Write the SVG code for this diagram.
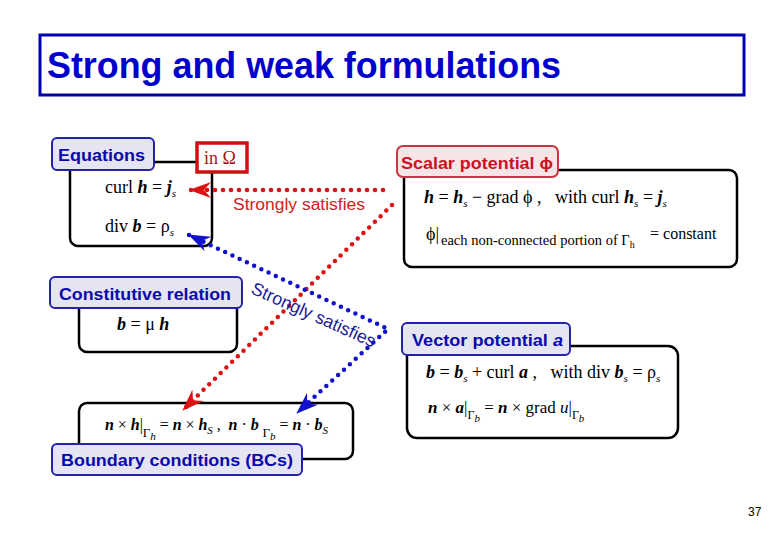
<svg xmlns="http://www.w3.org/2000/svg" width="780" height="540" viewBox="0 0 780 540">
<style>
.box{fill:#fff;stroke:#000;stroke-width:2.5}
.lbl{fill:#e4e4f2;stroke:#2222aa;stroke-width:2}
.lblr{fill:#f6e4e6;stroke:#cc3344;stroke-width:2}
.lt{font-family:"Liberation Sans",Arial,sans-serif;font-weight:bold;font-size:17px;fill:#0a0aaa}
.ltr{font-family:"Liberation Sans",Arial,sans-serif;font-weight:bold;font-size:17px;fill:#cc1122}
.m{font-family:"Liberation Serif","Times New Roman",serif;font-size:18px;fill:#000;white-space:pre}
.v{font-weight:bold;font-style:italic}
.i{font-style:italic}
.sub{font-size:11px;font-style:italic}
.dr{fill:none;stroke:#dd1111;stroke-width:4.5;stroke-linecap:round;stroke-dasharray:0 8}
.db{fill:none;stroke:#1111cc;stroke-width:4.5;stroke-linecap:round;stroke-dasharray:0 8}
</style>
<defs>
<marker id="ar" viewBox="0 0 22 16" refX="21" refY="8" markerWidth="22" markerHeight="16" markerUnits="userSpaceOnUse" orient="auto-start-reverse">
<path d="M0,0 L22,8 L0,16 L7,8 z" fill="#dd1111"/>
</marker>
<marker id="ab" viewBox="0 0 22 16" refX="21" refY="8" markerWidth="22" markerHeight="16" markerUnits="userSpaceOnUse" orient="auto-start-reverse">
<path d="M0,0 L22,8 L0,16 L7,8 z" fill="#1111cc"/>
</marker>
</defs>
<rect width="780" height="540" fill="#fff"/>

<g id="title">
<rect x="40" y="35" width="704" height="60" fill="none" stroke="#0000b0" stroke-width="3"/>
<text x="47" y="78" font-family="'Liberation Sans',Arial,sans-serif" font-weight="bold" font-size="36" fill="#0000cc" textLength="514" lengthAdjust="spacingAndGlyphs">Strong and weak formulations</text>
</g>

<g id="equations">
<rect class="box" x="70" y="162" width="142" height="84" rx="8"/>
<rect x="197" y="143" width="50" height="29" fill="#fff" stroke="#cc1111" stroke-width="3.5"/>
<text class="m" x="204" y="164" style="fill:#aa1111">in Ω</text>
<rect class="lbl" x="52" y="138" width="102" height="32" rx="5"/>
<text class="lt" x="58" y="161" textLength="87" lengthAdjust="spacingAndGlyphs">Equations</text>
<text class="m" x="105" y="193">curl <tspan class="v">h</tspan> = <tspan class="v">j</tspan><tspan class="sub" dy="4">s</tspan></text>
<text class="m" x="105" y="232">div <tspan class="v">b</tspan> = ρ<tspan class="sub" dy="4">s</tspan></text>
</g>

<g id="scalar">
<rect class="box" x="404" y="170" width="333" height="97" rx="8"/>
<rect class="lblr" x="397" y="146" width="161" height="31" rx="6"/>
<text class="ltr" x="401" y="169" textLength="152" lengthAdjust="spacingAndGlyphs">Scalar potential ϕ</text>
<text class="m" x="424" y="203"><tspan class="v">h</tspan> = <tspan class="v">h</tspan><tspan class="sub" dy="4">s</tspan><tspan dy="-4"> − grad ϕ ,   with curl </tspan><tspan class="v">h</tspan><tspan class="sub" dy="4">s</tspan><tspan dy="-4"> = </tspan><tspan class="v">j</tspan><tspan class="sub" dy="4">s</tspan></text>
<text class="m" x="426" y="240">ϕ|</text>
<text x="441" y="245" font-family="'Liberation Serif','Times New Roman',serif" font-size="14.5">each non-connected portion of Γ<tspan font-size="10" dy="3">h</tspan></text>
<text class="m" x="650" y="239" style="font-size:16px">= constant</text>
</g>

<g id="constitutive">
<rect class="box" x="79" y="290" width="158" height="62" rx="8"/>
<rect class="lbl" x="50" y="277" width="192" height="31" rx="5"/>
<text class="lt" x="59" y="300" textLength="172" lengthAdjust="spacingAndGlyphs">Constitutive relation</text>
<text class="m" x="117" y="330"><tspan class="v">b</tspan> = μ <tspan class="v">h</tspan></text>
</g>

<g id="vector">
<rect class="box" x="407" y="346" width="271" height="92" rx="10"/>
<rect class="lbl" x="402" y="323" width="168" height="32" rx="5"/>
<text class="lt" x="412" y="346" textLength="151" lengthAdjust="spacingAndGlyphs">Vector potential <tspan font-style="italic">a</tspan></text>
<text class="m" x="426" y="378"><tspan class="v">b</tspan> = <tspan class="v">b</tspan><tspan class="sub" dy="4">s</tspan><tspan dy="-4"> + curl </tspan><tspan class="v">a</tspan> ,   with div <tspan class="v">b</tspan><tspan class="sub" dy="4">s</tspan><tspan dy="-4"> = ρ</tspan><tspan class="sub" dy="4">s</tspan></text>
<text class="m" x="428" y="413" style="font-size:17px"><tspan class="v">n</tspan> × <tspan class="v">a</tspan>|<tspan font-size="12" dy="6">Γ</tspan><tspan class="sub" font-size="9" dy="3">b</tspan><tspan dy="-9"> = </tspan><tspan class="v">n</tspan> × grad <tspan class="i">u</tspan>|<tspan font-size="12" dy="6">Γ</tspan><tspan class="sub" font-size="9" dy="3">b</tspan></text>
</g>

<g id="bcs">
<rect class="box" x="79" y="403" width="274" height="56" rx="8"/>
<text class="m" x="105" y="430" style="font-size:16px" textLength="223" lengthAdjust="spacing"><tspan class="v">n</tspan> × <tspan class="v">h</tspan>|<tspan font-size="13" dy="7">Γ</tspan><tspan class="sub" font-size="10" dy="3">h</tspan><tspan dy="-10"> = </tspan><tspan class="v">n</tspan> × <tspan class="v">h</tspan><tspan class="sub" dy="4">S</tspan><tspan dy="-4"> ,  </tspan><tspan class="v">n</tspan> · <tspan class="v">b</tspan> <tspan font-size="13" dy="7">Γ</tspan><tspan class="sub" font-size="10" dy="3">b</tspan><tspan dy="-10"> = </tspan><tspan class="v">n</tspan> · <tspan class="v">b</tspan><tspan class="sub" dy="4">S</tspan></text>
<rect class="lbl" x="52" y="444" width="250" height="31" rx="5"/>
<text class="lt" x="61" y="466" textLength="232" lengthAdjust="spacingAndGlyphs">Boundary conditions (BCs)</text>
</g>

<g id="connectors">
<path class="dr" d="M383,190 L190,190" marker-end="url(#ar)"/>
<path class="dr" d="M392,205 L183,410" marker-end="url(#ar)"/>
<path class="db" d="M189,235 L388,329 L297,413" marker-start="url(#ab)" marker-end="url(#ab)"/>
<text x="233" y="210" font-family="'Liberation Sans',Arial,sans-serif" font-size="16" fill="#cc2222" textLength="132" lengthAdjust="spacingAndGlyphs">Strongly satisfies</text>
<text x="0" y="0" transform="translate(250,293) rotate(24)" font-family="'Liberation Sans',Arial,sans-serif" font-size="18" fill="#1a1a99" textLength="134" lengthAdjust="spacingAndGlyphs">Strongly satisfies</text>
</g>

<text x="748" y="516" font-family="'Liberation Sans',Arial,sans-serif" font-size="12" fill="#000">37</text>
</svg>
